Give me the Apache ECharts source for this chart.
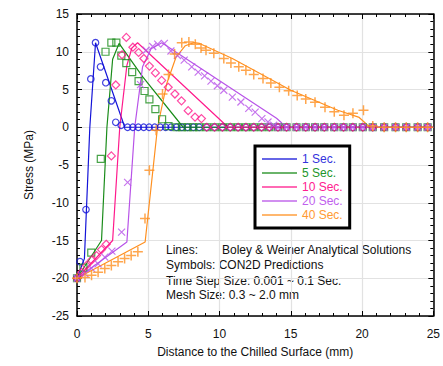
<!DOCTYPE html>
<html><head><meta charset="utf-8">
<script src="https://cdn.jsdelivr.net/npm/echarts@6/dist/echarts.min.js"></script>
<style>html,body{margin:0;padding:0;background:#fff}#c{width:443px;height:366px}</style>
</head><body><div id="c"></div>
<script>
// ---- Data ----
const seriesNames = ['1 Sec.', '5 Sec.', '10 Sec.', '20 Sec.', '40 Sec.'];
const colors = ['#1414d8', '#1a8c1a', '#ff1a8c', '#b853e8', '#ff9020'];
const legendTextColors = ['#3333dd', '#22962a', '#ff2090', '#c060ee', '#ff9a33'];

// Boley & Weiner analytical solutions (lines)
const line1 = [[0,-20],[0.52,-17.4],[0.9,0],[1.3,11.2],[3.35,0],[25,0]];
const line5 = [[0,-20],[1.72,-15],[2.1,0],[2.5,9.0],[2.95,11.1],[4.6,6.7],[7.45,0],[25,0]];
const line10 = [[0,-20],[2.5,-15],[3.0,0],[3.5,8.2],[3.85,10.5],[4.25,11.2],[10.6,0],[25,0]];
const line20 = [[0,-20],[3.5,-15.2],[4.05,0],[4.6,8],[5.2,10.4],[5.95,11.2],[14.0,1.2],[14.35,0.6],[14.55,0],[25,0]];
const line40 = [[0,-20],[4.78,-15.2],[5.65,0],[6.3,5.8],[6.95,9.3],[7.6,10.8],[8.2,11.2],[8.6,11.1],[10.9,9.1],[15.0,4.9],[18.3,2.25],[19.8,1.3],[20.55,0],[25,0]];

// CON2D predictions (symbols)
const sym1 = [[0,-20],[0.21,-17.8],[0.63,-10.9],[0.97,6.4],[1.30,11.2],[1.65,8.0],[2.02,5.9],[2.41,3.5],[2.72,0.66],[3.1,0.26]];
const sym5 = [[0,-20],[0.45,-18.6],[1.0,-16.6],[1.67,-4.2],[2.0,10.0],[2.41,11.2],[2.76,11.2],[3.11,9.5],[3.46,8.5],[3.87,7.3],[4.32,6.1],[4.74,4.8],[5.08,3.7],[5.5,2.4],[5.97,1.06],[6.42,0.16]];
const sym10 = [[0,-20],[0.33,-19.2],[0.67,-18.3],[1.02,-17.6],[1.37,-17.0],[1.72,-16.2],[2.05,-15.5],[2.41,-3.8],[2.72,5.6],[3.16,9.6],[3.46,11.9],[3.92,10.6],[4.32,9.9],[4.69,9.1],[5.08,8.1],[5.5,7.2],[5.94,6.2],[6.4,5.3],[6.87,4.4],[7.33,3.5],[7.8,2.2],[8.28,1.35],[8.73,1.15]];
const sym20 = [[0,-20],[0.56,-19.4],[1.02,-18.7],[1.48,-18.1],[1.95,-17.2],[2.45,-16.4],[3.13,-13.9],[3.55,-7.3],[4.46,5.65],[4.85,10.2],[5.31,10.7],[5.66,11.0],[6.13,11.1],[6.59,10.1],[7.05,9.5],[7.52,8.9],[8.05,8.0],[8.5,7.3],[8.95,6.8],[9.4,6.1],[9.85,5.5],[10.3,4.9],[10.9,4.0],[11.5,3.35],[12.05,2.5],[12.5,2.0],[12.97,1.15],[13.4,0.7],[13.8,0.26]];
const sym40 = [[0,-20],[0.56,-19.9],[1.02,-19.6],[1.48,-19.2],[1.95,-18.7],[2.41,-18.3],[2.88,-17.8],[3.34,-17.4],[3.8,-17.0],[4.27,-16.5],[4.77,-12.1],[5.08,-5.7],[5.55,-0.4],[6.0,4.4],[6.42,7.0],[6.85,9.7],[7.35,11.2],[7.85,11.3],[8.3,11.0],[8.7,10.5],[9.05,10.2],[9.6,9.8],[10.3,9.1],[10.8,8.5],[11.35,8.0],[11.85,7.55],[12.4,7.0],[13.05,6.45],[13.6,5.85],[14.2,5.3],[14.85,4.85],[15.45,4.2],[16.05,3.75],[16.7,3.3],[17.4,2.65],[18.05,2.05],[18.73,1.6],[19.36,1.85],[20.1,2.25],[20.75,0.15]];

// mesh node positions where CON2D stress is zero (liquid region)
const zeroNodesX = [3.55,3.92,4.3,4.68,5.06,5.45,5.84,6.22,6.6,6.98,7.36,7.76,8.16,8.57,9.1,9.65,10.2,10.75,11.3,11.85,12.4,12.95,13.5,14.1,14.7,15.4,16.05,16.7,17.35,18.05,18.7,19.35,20.05,20.75,21.55,22.35,23.1,23.9,24.6];
const zeroStartX = [3.5, 6.9, 9.0, 14.0, 21.5];

const xTitle = 'Distance to the Chilled Surface (mm)';
const yTitle = 'Stress (MPa)';
const noteLines = [
  ['Lines:', 'Boley & Weiner Analytical Solutions'],
  ['Symbols: CON2D Predictions', ''],
  ['Time Step Size: 0.001 ~ 0.1 Sec.', ''],
  ['Mesh Size: 0.3 ~ 2.0 mm', '']
];

// ---- Build ----
const lines = [line1, line5, line10, line20, line40];
const syms = [sym1, sym5, sym10, sym20, sym40];
const symbolTypes = ['circle', 'rect', 'diamond', 'path://M0,0L10,10M10,0L0,10', 'path://M5,0L5,10M0,5L10,5'];
const symbolSizes = [6.5, 7, 8, 7, 10];
const FONT = 'Liberation Sans, Arial, sans-serif';

const series = [];
lines.forEach((d, i) => {
  series.push({
    name: seriesNames[i], type: 'line', data: d, symbol: 'none', color: colors[i],
    lineStyle: {width: 1.2, color: colors[i]}, z: 2, animation: false, silent: true
  });
});
syms.forEach((d, i) => {
  const tail = zeroNodesX.filter(x => x >= zeroStartX[i]).map(x => [x, 0]);
  series.push({
    name: 'CON2D ' + seriesNames[i], type: 'scatter', data: d.concat(tail),
    symbol: symbolTypes[i], symbolSize: symbolSizes[i], z: 3 + i, animation: false, silent: true,
    itemStyle: {color: 'rgba(0,0,0,0)', borderColor: colors[i], borderWidth: i === 4 ? 1.5 : 1.2}
  });
});

const axisCommon = {
  axisLine: {show: true, onZero: false, lineStyle: {color: '#000', width: 1.5}},
  axisTick: {show: true, inside: true, length: 5, lineStyle: {color: '#000', width: 1}},
  minorTick: {show: true, splitNumber: 5, length: 3, lineStyle: {color: '#000', width: 1}}
};

const graphic = [];
const tops = [244, 259, 274.5, 289];
noteLines.forEach((pair, i) => {
  graphic.push({type: 'text', left: 166, top: tops[i], silent: true,
    style: {text: pair[0], font: '12px ' + FONT, fill: '#111'}});
  if (pair[1]) graphic.push({type: 'text', left: 222, top: tops[i], silent: true,
    style: {text: pair[1], font: '12px ' + FONT, fill: '#111'}});
});

const chart = echarts.init(document.getElementById('c'), null, {renderer: 'svg'});
chart.setOption({
  backgroundColor: '#fff',
  animation: false,
  grid: {left: 77, right: 7, top: 14, bottom: 50},
  xAxis: [
    Object.assign({type: 'value', min: 0, max: 25, interval: 5, position: 'bottom',
      splitLine: {show: true, lineStyle: {color: '#e2e2e2', width: 1.2}},
      axisLabel: {margin: 12, fontSize: 12, color: '#111', fontFamily: FONT},
      name: xTitle, nameLocation: 'middle', nameGap: 30,
      nameTextStyle: {fontSize: 12, color: '#111', fontFamily: FONT}}, axisCommon),
    Object.assign({type: 'value', min: 0, max: 25, interval: 5, position: 'top',
      splitLine: {show: false}, axisLabel: {show: false}}, axisCommon)
  ],
  yAxis: [
    Object.assign({type: 'value', min: -25, max: 15, interval: 5, position: 'left',
      splitLine: {show: true, lineStyle: {color: '#e2e2e2', width: 1.2}},
      axisLabel: {margin: 8, fontSize: 12, color: '#111', fontFamily: FONT},
      name: yTitle, nameLocation: 'middle', nameGap: 42, nameRotate: 90,
      nameTextStyle: {fontSize: 12, color: '#111', fontFamily: FONT}}, axisCommon),
    Object.assign({type: 'value', min: -25, max: 15, interval: 5, position: 'right',
      splitLine: {show: false}, axisLabel: {show: false}}, axisCommon)
  ],
  legend: {
    orient: 'vertical', left: 255, top: 146, padding: [7, 7, 7, 7],
    itemWidth: 35, itemHeight: 12, itemGap: 2,
    backgroundColor: '#fff', borderColor: '#000', borderWidth: 3, borderRadius: 0,
    icon: 'path://M0,0h35v2h-35z', itemStyle: {opacity: 0.65},
    textStyle: {fontSize: 12, lineHeight: 12, fontFamily: FONT, padding: [0, 0, 0, 0]},
    selectedMode: false,
    data: seriesNames.map((n, i) => ({name: n, textStyle: {color: legendTextColors[i]}}))
  },
  graphic: graphic,
  series: series
});
</script></body></html>
